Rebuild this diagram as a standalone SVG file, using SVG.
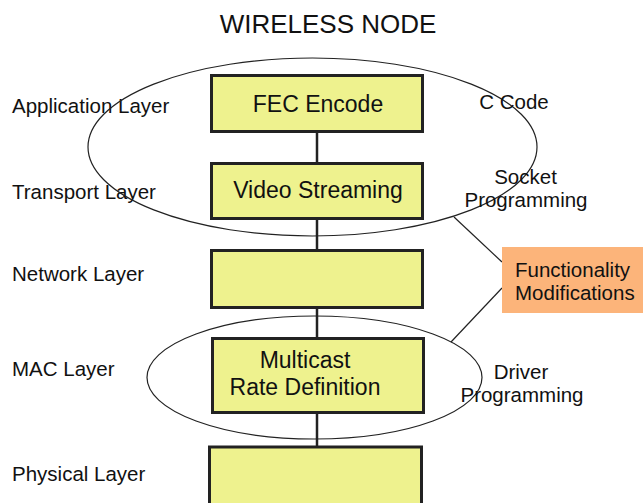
<svg xmlns="http://www.w3.org/2000/svg" width="643" height="503" viewBox="0 0 643 503">
  <style>
    text { font-family: "Liberation Sans", Arial, sans-serif; fill: #111; }
    .layer { font-size: 20.5px; }
    .box { fill: #EEF28E; stroke: #222; stroke-width: 3; }
    .boxlabel { font-size: 23px; text-anchor: middle; }
    .note { font-size: 20.5px; text-anchor: middle; }
    .ring { fill: none; stroke: #222; stroke-width: 1.2; }
    .link { stroke: #222; stroke-width: 2.5; }
    .lead { stroke: #222; stroke-width: 1.2; }
  </style>
  <rect width="643" height="503" fill="#fff"/>

  <text x="328" y="33" font-size="26" text-anchor="middle">WIRELESS NODE</text>

  <!-- layer names -->
  <g id="layer-names">
    <text class="layer" x="12" y="113">Application Layer</text>
    <text class="layer" x="12" y="199">Transport Layer</text>
    <text class="layer" x="12" y="280.5">Network Layer</text>
    <text class="layer" x="12" y="376">MAC Layer</text>
    <text class="layer" x="12" y="481">Physical Layer</text>
  </g>

  <!-- vertical stack connectors -->
  <g id="connectors">
    <line class="link" x1="317" y1="132" x2="317" y2="163"/>
    <line class="link" x1="317" y1="219" x2="317" y2="250"/>
    <line class="link" x1="317" y1="308" x2="317" y2="338"/>
    <line class="link" x1="317" y1="413" x2="317" y2="447"/>
    <line class="lead" x1="454" y1="217" x2="502" y2="262"/>
    <line class="lead" x1="502" y1="288" x2="451" y2="342"/>
  </g>

  <g id="fec-encode">
    <rect class="box" x="211.5" y="75.5" width="211" height="56"/>
    <text class="boxlabel" x="318" y="111.5">FEC Encode</text>
  </g>
  <g id="video-streaming">
    <rect class="box" x="211.5" y="163.5" width="211" height="55"/>
    <text class="boxlabel" x="318" y="197.5">Video Streaming</text>
  </g>
  <g id="network">
    <rect class="box" x="211.5" y="250.5" width="211" height="57"/>
  </g>
  <g id="multicast-rate">
    <rect class="box" x="212.5" y="338.5" width="211" height="74"/>
    <text class="boxlabel" x="305" y="368">Multicast</text>
    <text class="boxlabel" x="305" y="395">Rate Definition</text>
  </g>
  <g id="physical">
    <rect class="box" x="209.5" y="447" width="212" height="60"/>
  </g>

  <!-- software scopes -->
  <g id="scope-upper">
    <ellipse class="ring" cx="312.5" cy="147" rx="224.5" ry="89"/>
    <text class="note" x="514" y="108.5">C Code</text>
    <text class="note" x="525.5" y="184">Socket</text>
    <text class="note" x="526" y="206.5">Programming</text>
  </g>
  <g id="scope-lower">
    <ellipse class="ring" cx="314.5" cy="377.5" rx="167.5" ry="61.5"/>
    <text class="note" x="521" y="378.5">Driver</text>
    <text class="note" x="522" y="402">Programming</text>
  </g>

  <g id="functionality">
    <rect x="502" y="247" width="143" height="66" fill="#FCB47A"/>
    <text x="515" y="277" font-size="20.5">Functionality</text>
    <text x="515" y="299.5" font-size="20.5">Modifications</text>
  </g>
</svg>
